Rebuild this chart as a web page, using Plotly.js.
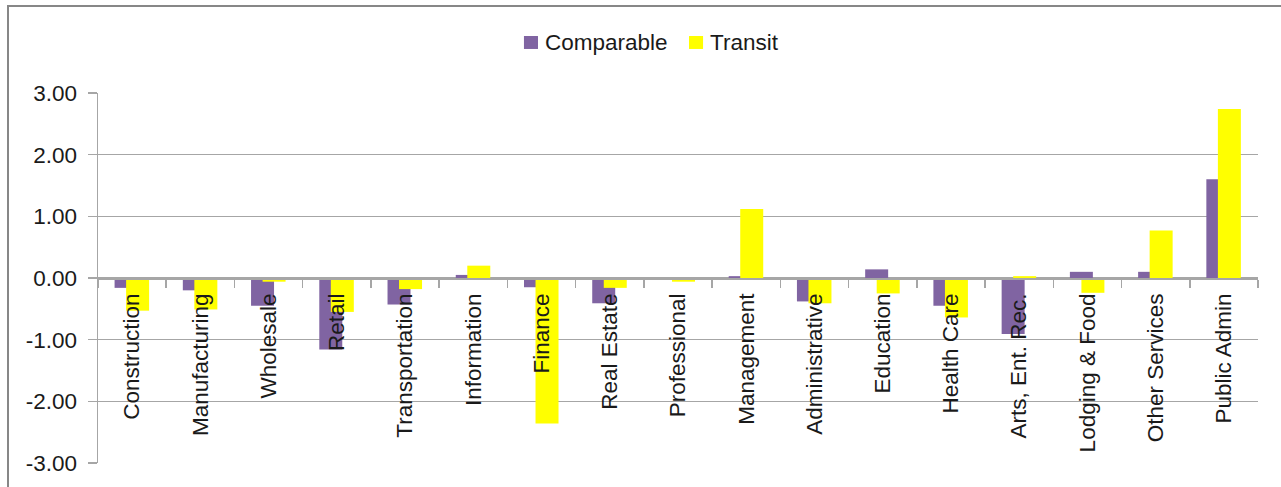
<!DOCTYPE html>
<html>
<head>
<meta charset="utf-8">
<script src="https://cdn.plot.ly/plotly-3.0.1.min.js"></script>
<style>
  html, body { margin: 0; padding: 0; background: #ffffff; }
  #wrap { position: relative; width: 1281px; height: 487px; overflow: hidden; }
  #chart { position: absolute; left: 0; top: 0; width: 1281px; height: 487px; }
  #frame {
    position: absolute; left: 7px; top: 5px; width: 1300px; height: 520px;
    border-left: 2px solid #878787; border-top: 2px solid #878787;
    pointer-events: none;
  }
</style>
</head>
<body>
<div id="wrap">
  <div id="chart"></div>
  <div id="frame"></div>
</div>
<script>
// Industry sectors
const categories = [
  "Construction", "Manufacturing", "Wholesale", "Retail", "Transportation",
  "Information", "Finance", "Real Estate", "Professional", "Management",
  "Administrative", "Education", "Health Care", "Arts, Ent. Rec.",
  "Lodging & Food", "Other Services", "Public Admin"
];

// Comparable series
const comparable = [
  -0.16, -0.20, -0.45, -1.16, -0.43,
   0.05, -0.15, -0.41, -0.03,  0.03,
  -0.38,  0.14, -0.45, -0.91,
   0.10,  0.10,  1.60
];

// Transit series
const transit = [
  -0.53, -0.51, -0.06, -0.55, -0.18,
   0.20, -2.36, -0.16, -0.06,  1.12,
  -0.41, -0.25, -0.64,  0.03,
  -0.24,  0.77,  2.74
];

// Value axis ticks
const yTickVals = [3, 2, 1, 0, -1, -2, -3];
const yTickText = ["3.00", "2.00", "1.00", "0.00", "-1.00", "-2.00", "-3.00"];

const seriesNames = ["Comparable", "Transit"];
const seriesColors = ["#8064a2", "#ffff00"];

const FONT = "Liberation Sans, Arial, sans-serif";
const TEXT = "#1a1a1a";
const GRID = "#a6a6a6";
const FS = 22.5;

const traces = [
  {
    type: "bar",
    name: seriesNames[0],
    x: categories,
    y: comparable,
    width: 0.337,
    offset: -0.257,
    marker: { color: seriesColors[0], line: { width: 0 } }
  },
  {
    type: "bar",
    name: seriesNames[1],
    x: categories,
    y: transit,
    width: 0.337,
    offset: -0.088,
    marker: { color: seriesColors[1], line: { width: 0 } }
  }
];

// Legend drawn as swatches + labels above the plot area (paper coordinates)
const legendItems = [
  { x0: 0.3672, x1: 0.3793, tx: 0.3845 },
  { x0: 0.5095, x1: 0.5216, tx: 0.5267 }
];
const shapes = legendItems.map((it, i) => ({
  type: "rect", xref: "paper", yref: "paper",
  x0: it.x0, x1: it.x1, y0: 1.119, y1: 1.154,
  fillcolor: seriesColors[i], line: { width: 0 }
}));
const annotations = legendItems.map((it, i) => ({
  xref: "paper", yref: "paper", x: it.tx, y: 1.1366,
  xanchor: "left", yanchor: "middle", showarrow: false,
  borderpad: 0, text: seriesNames[i],
  font: { family: FONT, size: FS, color: TEXT }
}));

const layout = {
  width: 1281,
  height: 487,
  margin: { l: 98, r: 23, t: 93, b: 24, pad: 0 },
  paper_bgcolor: "#ffffff",
  plot_bgcolor: "#ffffff",
  barmode: "overlay",
  font: { family: FONT, size: FS, color: TEXT },
  showlegend: false,
  shapes: shapes,
  annotations: annotations,
  xaxis: {
    type: "category",
    anchor: "free",
    position: 0.5,
    showgrid: false,
    zeroline: false,
    showline: true,
    linecolor: GRID,
    linewidth: 1.5,
    ticks: "outside",
    tickson: "boundaries",
    ticklen: 8,
    tickwidth: 1.5,
    tickcolor: GRID,
    tickangle: -90,
    ticklabelstandoff: 5,
    tickfont: { family: FONT, size: FS, color: TEXT },
    fixedrange: true
  },
  yaxis: {
    range: [-3, 3],
    tickvals: yTickVals,
    ticktext: yTickText,
    showgrid: true,
    gridcolor: GRID,
    gridwidth: 1.5,
    zeroline: false,
    showline: true,
    linecolor: GRID,
    linewidth: 1.5,
    ticks: "outside",
    ticklen: 9,
    tickwidth: 1.5,
    tickcolor: GRID,
    ticklabelstandoff: 6,
    tickfont: { family: FONT, size: FS, color: TEXT },
    fixedrange: true
  }
};

Plotly.newPlot("chart", traces, layout, { displayModeBar: false, staticPlot: true });
</script>
</body>
</html>
